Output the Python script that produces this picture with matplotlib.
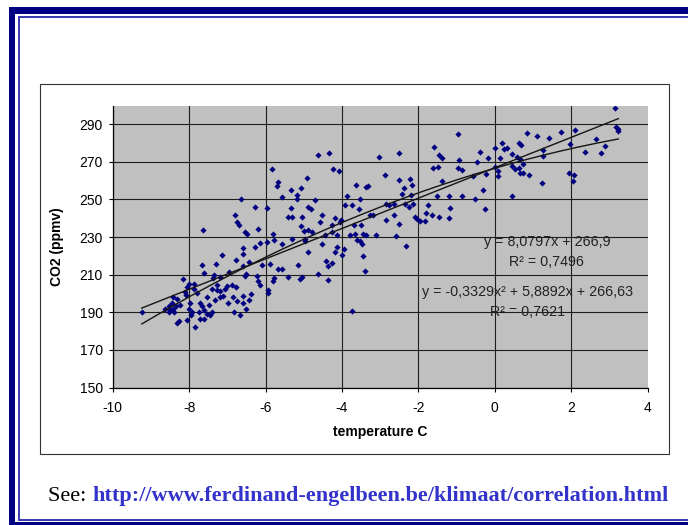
import matplotlib
matplotlib.use("Agg")
import matplotlib.pyplot as plt
from matplotlib.patches import Rectangle
import numpy as np

# temperature (C) and CO2 (ppmv)
temperature = [
    -6.63, -6.28, -6.80, -6.74, -6.69, -6.54, -6.48, -7.63,
    -6.21, -6.60, -6.28, -6.58, -7.15, -6.78, -6.43, -7.67,
    -7.30, -6.60, -7.61, -7.35, -7.37, -7.19, -6.96, -6.54,
    -6.50, -6.23, -8.15, -8.01, -7.87, -8.05, -7.87, -8.11,
    -8.07, -7.80, -7.41, -7.26, -7.26, -7.18, -7.06, -7.02,
    -6.89, -6.78, -8.42, -8.31, -8.44, -8.24, -8.35, -7.98,
    -7.72, -7.67, -7.54, -7.49, -7.32, -7.19, -7.11, -6.97,
    -6.86, -6.76, -6.58, -6.44, -6.58, -6.39, -8.63, -8.52,
    -8.50, -8.43, -8.40, -8.52, -9.24, -8.00, -7.93, -7.96,
    -7.75, -7.61, -7.53, -7.46, -7.40, -7.72, -6.83, -6.67,
    -6.50, -8.31, -8.26, -8.05, -7.84, -7.61,
    -4.62, -4.34, -3.03, -5.82, -4.24, -4.09, -4.91, -5.67,
    -5.69, -5.34, -5.08, -5.17, -5.19, -5.58, -3.64, -3.37,
    -3.31, -3.88, -3.92, -3.73, -3.53, -5.95, -5.33, -4.88,
    -4.82, -4.71, -5.40, -5.32, -5.05, -4.53, -3.55, -3.27,
    -3.18, -4.18, -4.03, -4.25, -4.57, -4.05, -5.80, -5.77,
    -6.15, -5.97, -5.56, -5.32, -4.97, -5.08, -4.99, -4.88,
    -4.79, -4.97, -4.44, -4.27, -4.14, -3.79, -3.66, -3.68,
    -3.50, -3.44, -3.38, -3.12, -3.61, -3.53, -3.48, -6.10,
    -5.88, -4.88, -4.53, -4.18, -4.14, -3.96, -4.01, -4.43,
    -4.37, -4.25, -3.44, -3.41, -5.67, -5.58, -5.14, -4.64,
    -4.36, -5.40, -5.10, -5.05, -6.21, -6.15, -5.80, -5.77,
    -5.93, -5.94, -3.75,
    -0.97, -1.58, -1.46, -1.39, -2.52, -1.61, -1.50, -0.95,
    -0.97, -0.87, -0.39, -0.19, -0.46, 0.01, 0.18, 0.24,
    0.31, 0.14, 0.01, 0.07, 0.09, -2.87, -2.52, -2.22,
    -2.17, -2.39, -2.44, -2.20, -1.39, -0.58, -0.23, -0.30,
    -1.52, -1.21, -0.87, -0.52, -2.85, -2.76, -2.65, -2.35,
    -2.24, -2.13, -1.74, -0.26, -1.17, -2.65, -2.86, -2.50,
    -2.09, -2.04, -1.96, -1.83, -1.80, -1.65, -1.45, -1.21,
    -2.59, -2.32,
    3.15, 3.17, 3.21, 3.23, 0.83, 1.11, 1.43, 1.73,
    2.10, 0.64, 0.68, 1.27, 1.97, 2.65, 2.87, 0.44,
    0.59, 0.66, 1.27, 2.36, 2.77, 0.44, 0.53, 0.64,
    0.73, 0.66, 0.73, 0.90, 1.93, 2.06, 2.04, 1.24,
    0.44,
]
co2 = [
    250.3, 246.1, 242.0, 238.1, 236.6, 232.5, 231.7, 233.6,
    234.5, 224.2, 224.7, 221.2, 220.5, 217.6, 216.5, 215.3,
    215.8, 214.8, 210.9, 210.0, 208.2, 208.7, 211.7, 209.1,
    210.5, 209.4, 207.7, 205.2, 205.2, 203.4, 202.3, 200.7,
    199.3, 200.5, 202.5, 204.6, 201.6, 201.1, 202.3, 204.1,
    204.6, 203.7, 198.1, 197.0, 194.9, 194.0, 193.1, 195.2,
    194.9, 193.4, 198.4, 193.8, 196.3, 198.1, 198.8, 195.2,
    198.1, 196.1, 198.8, 196.6, 194.9, 199.8, 191.7, 193.1,
    191.3, 191.7, 190.2, 190.2, 190.2, 192.0, 190.1, 188.5,
    190.2, 191.3, 189.2, 188.5, 189.9, 186.5, 190.2, 188.6,
    191.7, 184.2, 185.3, 186.0, 182.4, 186.3,
    273.5, 274.9, 272.8, 266.4, 266.4, 265.1, 261.6, 259.4,
    257.1, 255.3, 256.2, 252.3, 250.5, 251.4, 257.5, 256.6,
    257.1, 251.8, 247.3, 247.0, 250.5, 245.6, 245.6, 246.1,
    245.0, 249.5, 240.6, 240.6, 240.8, 241.5, 244.7, 241.6,
    242.0, 239.9, 239.0, 236.7, 237.9, 237.9, 231.7, 228.7,
    226.9, 227.4, 226.4, 229.0, 229.0, 236.1, 233.1, 234.0,
    232.8, 227.8, 231.0, 232.8, 231.3, 231.0, 231.7, 236.7,
    236.7, 231.7, 231.0, 231.3, 228.7, 227.8, 226.4, 215.0,
    215.7, 222.1, 226.4, 222.1, 224.6, 223.9, 220.7, 217.5,
    214.4, 216.2, 219.8, 212.1, 213.2, 213.2, 215.0, 210.5,
    207.3, 208.7, 207.7, 208.7, 206.4, 204.3, 206.8, 208.2,
    202.0, 200.2, 190.8,
    284.7, 277.9, 273.6, 272.2, 274.5, 266.5, 267.4, 270.8,
    266.9, 265.5, 275.4, 272.2, 270.1, 277.2, 279.9, 276.7,
    277.2, 272.2, 267.2, 265.1, 262.4, 262.8, 260.3, 260.7,
    257.5, 255.9, 253.0, 252.3, 259.8, 262.4, 263.7, 254.8,
    251.8, 251.8, 251.8, 250.0, 247.7, 247.3, 247.7, 247.7,
    245.9, 247.7, 247.0, 244.7, 245.6, 242.0, 239.0, 237.0,
    240.6, 239.7, 238.4, 238.4, 242.9, 241.6, 240.6, 240.2,
    230.4, 225.1,
    298.9, 288.8, 287.7, 286.4, 285.6, 283.8, 282.9, 286.1,
    287.0, 279.9, 278.8, 276.3, 279.3, 282.4, 278.4, 274.0,
    272.8, 271.7, 273.1, 275.4, 274.5, 267.8, 266.4, 266.9,
    268.7, 264.2, 263.9, 262.8, 263.9, 262.8, 260.0, 258.9,
    252.1,
]

# trendlines as printed on the chart
lin_coef = [8.0797, 266.9]
quad_coef = [-0.3329, 5.8892, 266.63]
lin_label = ["y = 8,0797x + 266,9", "R² = 0,7496"]
quad_label = ["y = -0,3329x² + 5,8892x + 266,63", "R² = 0,7621"]

x_ticks = [-10, -8, -6, -4, -2, 0, 2, 4]
y_ticks = [150, 170, 190, 210, 230, 250, 270, 290]

plt.rcParams['font.family'] = ['Liberation Sans', 'DejaVu Sans']
plt.rcParams['axes.unicode_minus'] = False

W, H = 688, 525
fig = plt.figure(figsize=(W / 100, H / 100), dpi=100)
fig.patch.set_facecolor('white')


def box(x0, y0, x1, y1, **kw):
    # rectangle in pixels, y counted from the top
    r = Rectangle((x0 / W, 1 - y1 / H), (x1 - x0) / W, (y1 - y0) / H,
                  transform=fig.transFigure, **kw)
    fig.add_artist(r)


navy = '#000080'
thin = '#3c3cb0'
# page frame
box(9, 7, 700, 14, color=navy, lw=0)
box(9, 7, 15, 530, color=navy, lw=0)
box(9, 522, 700, 530, color=navy, lw=0)
box(17.5, 16, 700, 18, color=thin, lw=0)
box(17.5, 16, 20, 521, color=thin, lw=0)
box(17.5, 519, 700, 521, color=thin, lw=0)

# chart area box
box(40, 84, 669, 454, facecolor='white', edgecolor='#333333', lw=0.8, zorder=-1)

ax = fig.add_axes([112.7 / W, 1 - 387.5 / H, 535 / W, 282 / H])
ax.set_facecolor('#c0c0c0')
ax.set_xlim(-10, 4)
ax.set_ylim(150, 300)
ax.set_xticks(x_ticks)
ax.set_yticks(y_ticks)
ax.set_axisbelow(True)
ax.grid(True, color='#1e1e1e', lw=0.8)
ax.get_xgridlines()[-1].set_visible(False)

for s in ['top', 'right']:
    ax.spines[s].set_visible(False)
for s in ['left', 'bottom']:
    ax.spines[s].set_color('black')
    ax.spines[s].set_linewidth(0.9)

ax.tick_params(axis='both', direction='out', length=3, width=0.8,
               labelsize=10, colors='black')
ax.tick_params(axis='x', pad=7)
ax.tick_params(axis='y', pad=4)

ax.scatter(temperature, co2, marker='D', s=10, color=navy, lw=0, zorder=3)

xs = np.linspace(min(temperature), max(temperature), 200)
ax.plot(xs, np.polyval(lin_coef, xs), color='#151515', lw=1.0, zorder=4)
ax.plot(xs, np.polyval(quad_coef, xs), color='#151515', lw=1.0, zorder=4)

ax.text(1.37, 227.6, lin_label[0], ha='center', va='center', fontsize=10.3, color='#222222')
ax.text(1.35, 216.9, lin_label[1], ha='center', va='center', fontsize=10.3, color='#222222')
ax.text(0.86, 201.0, quad_label[0], ha='center', va='center', fontsize=10.3, color='#222222')
ax.text(0.86, 190.3, quad_label[1], ha='center', va='center', fontsize=10.3, color='#222222')

ax.set_xlabel('temperature C', fontsize=10, fontweight='bold')
ax.set_ylabel('CO2 (ppmv)', fontsize=10, fontweight='bold')
ax.xaxis.set_label_coords(0.5, (387.5 - 432) / 282)
ax.xaxis.label.set_va('center')
ax.yaxis.set_label_coords((57 - 112.7) / 535, 0.5)
ax.yaxis.label.set_va('center')

fig.text(48 / W, 1 - 500.7 / H, 'See: ', family='Liberation Serif',
         fontsize=16, color='black', va='baseline')
fig.text(92.3 / W, 1 - 500.7 / H, 'http://www.ferdinand-engelbeen.be/klimaat/correlation.html',
         family='Liberation Serif', fontsize=16, fontweight='bold',
         color='#3333cc', va='baseline')

fig.savefig('out.png', dpi=100)
